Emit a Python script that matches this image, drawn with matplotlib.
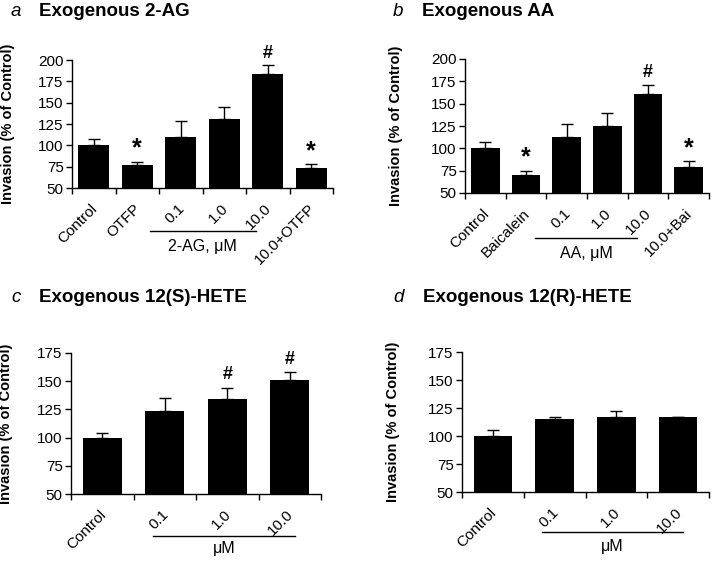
import matplotlib
matplotlib.use('Agg')
import matplotlib.pyplot as plt

plt.rcParams['font.family'] = ['Liberation Sans', 'DejaVu Sans']

# panel a - exogenous 2-AG
a_labels = ['Control', 'OTFP', '0.1', '1.0', '10.0', '10.0+OTFP']
a_vals = [100, 77, 110, 131, 184, 73]
a_err = [8, 4, 18, 14, 10, 5]
a_marks = ['', '*', '', '', '#', '*']

# panel b - exogenous AA
b_labels = ['Control', 'Baicalein', '0.1', '1.0', '10.0', '10.0+Bai']
b_vals = [100, 70, 113, 125, 161, 79]
b_err = [7, 5, 14, 15, 10, 7]
b_marks = ['', '*', '', '', '#', '*']

# panel c - exogenous 12(S)-HETE
c_labels = ['Control', '0.1', '1.0', '10.0']
c_vals = [100, 124, 134, 151]
c_err = [4, 11, 10, 7]
c_marks = ['', '', '#', '#']

# panel d - exogenous 12(R)-HETE
d_labels = ['Control', '0.1', '1.0', '10.0']
d_vals = [100, 115, 117, 117]
d_err = [5, 2, 5, 0]
d_marks = ['', '', '', '']

W, H = 715, 561
fig = plt.figure(figsize=(W / 100, H / 100), dpi=100)


def box(x0, y0, x1, y1):
    return [x0 / W, 1 - y1 / H, (x1 - x0) / W, (y1 - y0) / H]


def panel(rect, labels, vals, err, marks, ymax, width, line, group, liney, laby, ylx):
    ax = fig.add_axes(box(*rect))
    n = len(vals)
    x = list(range(n))
    ax.bar(x, [v - 50 for v in vals], bottom=50, width=width, color='black')
    ax.errorbar(x, vals, yerr=[[0] * n, err], fmt='none', ecolor='black',
                elinewidth=1, capsize=4, capthick=1)
    for i in range(n):
        if marks[i]:
            fs = 18 if marks[i] == '*' else 13
            off = 1 if marks[i] == '*' else 4
            ax.text(i, vals[i] + err[i] + off, marks[i], ha='center', va='bottom',
                    fontsize=fs, fontweight='bold')
    ax.set_xlim(-0.5, n - 0.5)
    ax.set_ylim(50, ymax)
    ax.set_yticks(range(50, ymax + 1, 25))
    ax.set_xticks([i - 0.5 for i in range(n + 1)])
    ax.set_xticklabels([])
    ax.tick_params(axis='both', direction='out', length=4, width=1, labelsize=11)
    ax.tick_params(axis='y', pad=2)
    for i, lab in enumerate(labels):
        ax.annotate(lab, xy=(i, 0), xycoords=('data', 'axes fraction'),
                    xytext=(1, -13), textcoords='offset points', rotation=45,
                    rotation_mode='anchor', ha='right', va='center', fontsize=11)
    ax.spines['top'].set_visible(False)
    ax.spines['right'].set_visible(False)
    ax.spines['left'].set_linewidth(1)
    ax.spines['bottom'].set_linewidth(1)
    ax.set_ylabel('Invasion (% of Control)', fontsize=10.5, fontweight='bold')
    ax.yaxis.set_label_coords(ylx, 0.5)
    ax.plot(line, [liney, liney], color='black', lw=1, transform=ax.get_xaxis_transform(),
            clip_on=False)
    ax.text((line[0] + line[1]) / 2, laby, group, transform=ax.get_xaxis_transform(),
            ha='center', va='center', fontsize=11.5)
    return ax


panel((72, 60, 333, 188), a_labels, a_vals, a_err, a_marks, 200, 0.72,
      (1.3, 3.72), '2-AG, \u03bcM', -0.336, -0.46, -0.22)
panel((465, 59, 709, 193), b_labels, b_vals, b_err, b_marks, 200, 0.70,
      (1.22, 3.73), 'AA, \u03bcM', -0.336, -0.45, -0.255)
panel((71, 353, 321, 494), c_labels, c_vals, c_err, c_marks, 175, 0.62,
      (0.81, 3.08), '\u03bcM', -0.30, -0.385, -0.23)
panel((462, 352, 709, 492), d_labels, d_vals, d_err, d_marks, 175, 0.62,
      (0.80, 3.08), '\u03bcM', -0.286, -0.39, -0.25)

titles = [('a', 'Exogenous 2-AG', 11, 39, 12),
          ('b', 'Exogenous AA', 393, 422, 12),
          ('c', 'Exogenous 12(S)-HETE', 11, 39, 298),
          ('d', 'Exogenous 12(R)-HETE', 393, 423, 298)]
for letter, title, lx, tx, ty in titles:
    fig.text(lx / W, 1 - ty / H, letter, fontsize=13.5, fontstyle='italic', va='center')
    fig.text(tx / W, 1 - ty / H, title, fontsize=13.5, fontweight='bold', va='center')

fig.savefig('out.png', dpi=100)
